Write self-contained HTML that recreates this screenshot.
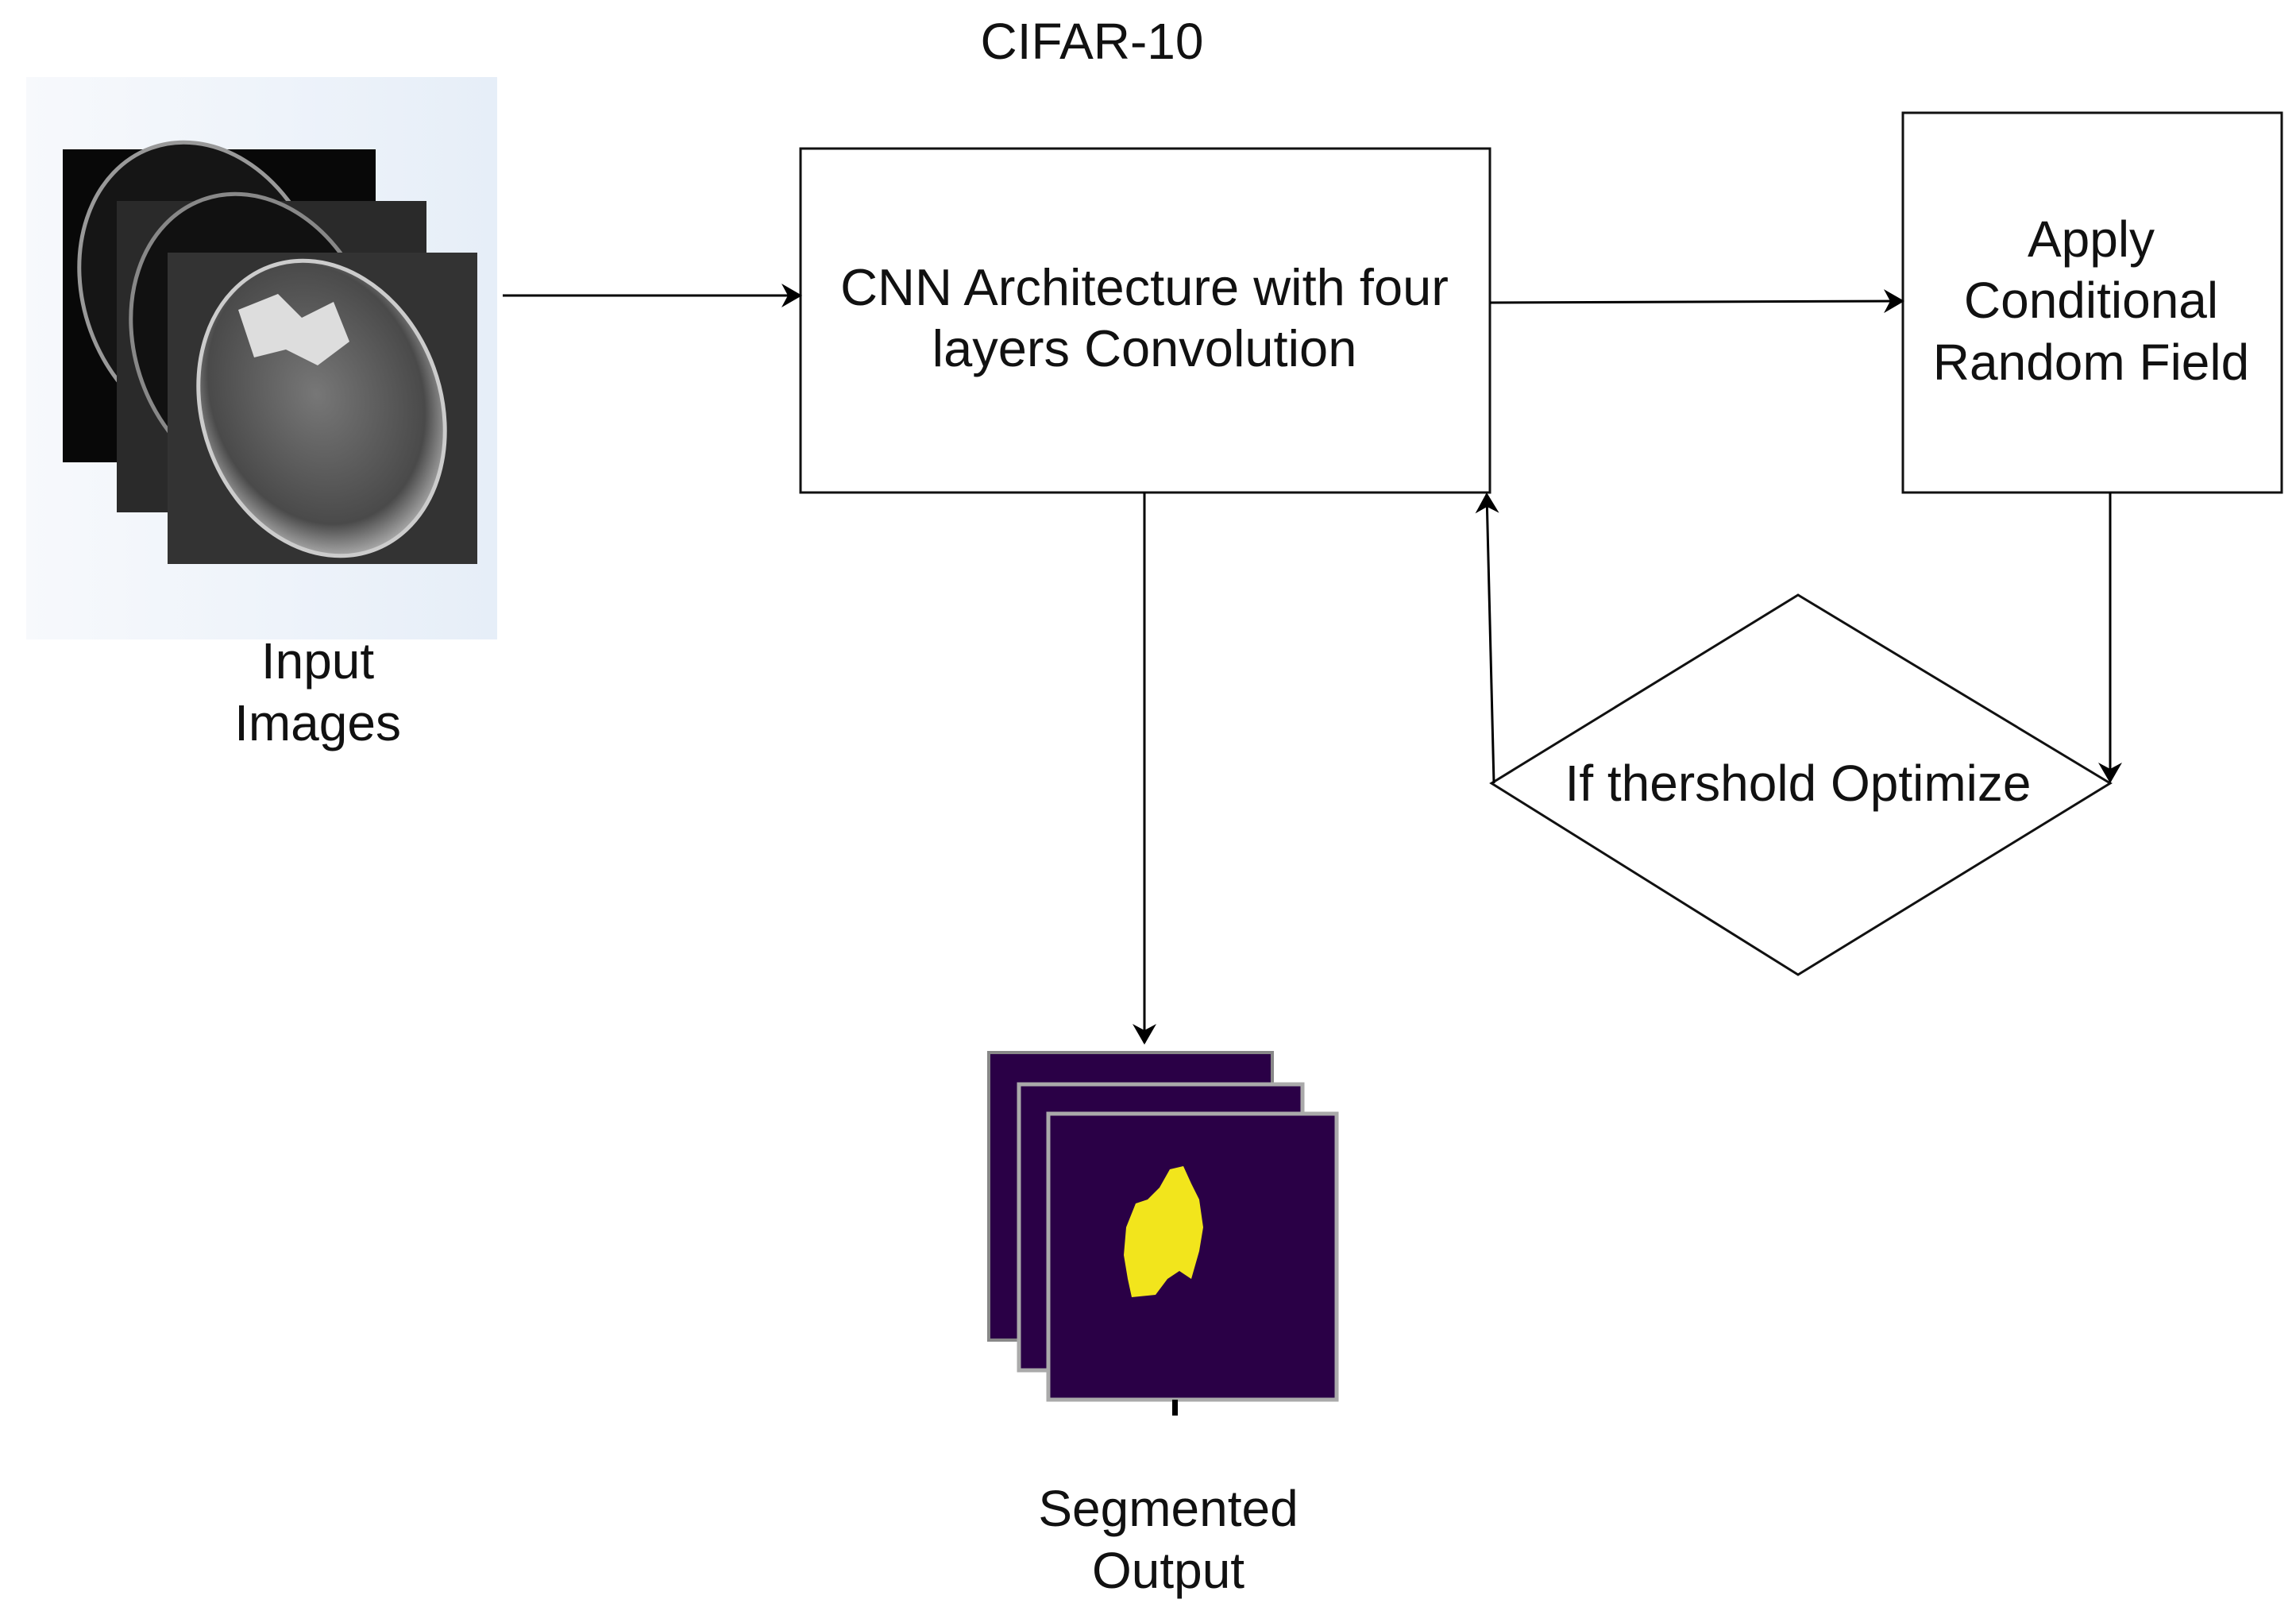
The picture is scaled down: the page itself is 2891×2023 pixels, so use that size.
<!DOCTYPE html>
<html><head><meta charset="utf-8"><style>
html,body{margin:0;padding:0;background:#fff;}
svg{display:block;}
text{font-family:"Liberation Sans",sans-serif;fill:#111;}
</style></head><body>
<svg width="2891" height="2023" viewBox="0 0 2891 2023" xmlns="http://www.w3.org/2000/svg">
<defs>
<linearGradient id="bg" x1="0" y1="0" x2="1" y2="0">
<stop offset="0" stop-color="#f7f9fc"/><stop offset="1" stop-color="#e6eef8"/>
</linearGradient>
<radialGradient id="brain" cx="0.5" cy="0.45" r="0.55">
<stop offset="0" stop-color="#777"/><stop offset="0.8" stop-color="#4a4a4a"/><stop offset="1" stop-color="#aaa"/>
</radialGradient>
<marker id="ahb" markerWidth="26" markerHeight="30" refX="24" refY="15" orient="auto" markerUnits="userSpaceOnUse">
<path d="M0,0 L26,15 L0,30 L8,15 z" fill="#000"/>
</marker>
</defs>

<text x="1375" y="74" font-size="64" text-anchor="middle">CIFAR-10</text>

<rect x="33" y="97" width="593" height="708" fill="url(#bg)"/>
<rect x="79" y="188" width="394" height="394" fill="#080808"/>
<ellipse cx="255" cy="365" rx="150" ry="190" transform="rotate(-20 255 365)" fill="#151515" stroke="#999" stroke-width="5"/>
<rect x="147" y="253" width="390" height="392" fill="#2a2a2a"/>
<ellipse cx="320" cy="430" rx="150" ry="190" transform="rotate(-20 320 430)" fill="#111" stroke="#888" stroke-width="5"/>
<rect x="211" y="318" width="390" height="392" fill="#333"/>
<ellipse cx="405" cy="514" rx="150" ry="190" transform="rotate(-20 405 514)" fill="url(#brain)" stroke="#ccc" stroke-width="5"/>
<path d="M300,390 L350,370 L380,400 L420,380 L440,430 L400,460 L360,440 L320,450 z" fill="#ddd"/>

<text x="400" y="854" font-size="64" text-anchor="middle">Input</text>
<text x="400" y="932" font-size="64" text-anchor="middle">Images</text>

<rect x="1008" y="187" width="868" height="433" fill="#fff" stroke="#111" stroke-width="3"/>
<text x="1441" y="384" font-size="65" text-anchor="middle">CNN Architecture with four</text>
<text x="1441" y="461" font-size="65" text-anchor="middle">layers Convolution</text>

<rect x="2396" y="142" width="477" height="478" fill="#fff" stroke="#111" stroke-width="3"/>
<text x="2633" y="323" font-size="64" text-anchor="middle">Apply</text>
<text x="2633" y="400" font-size="64" text-anchor="middle">Conditional</text>
<text x="2633" y="478" font-size="64" text-anchor="middle">Random Field</text>

<polygon points="1878,986 2264,749 2657,986 2264,1227" fill="#fff" stroke="#111" stroke-width="3"/>
<text x="2264" y="1008" font-size="64" text-anchor="middle">If thershold Optimize</text>

<line x1="633" y1="372" x2="1008" y2="372" stroke="#000" stroke-width="3" marker-end="url(#ahb)"/>
<line x1="1876" y1="381" x2="2396" y2="379" stroke="#000" stroke-width="3" marker-end="url(#ahb)"/>
<line x1="2657" y1="620" x2="2657" y2="984" stroke="#000" stroke-width="3" marker-end="url(#ahb)"/>
<line x1="1881" y1="986" x2="1872" y2="622" stroke="#000" stroke-width="3" marker-end="url(#ahb)"/>
<line x1="1441" y1="620" x2="1441" y2="1313" stroke="#000" stroke-width="3" marker-end="url(#ahb)"/>

<rect x="1245" y="1325" width="357" height="362" fill="#2a0046" stroke="#888" stroke-width="4"/>
<rect x="1283" y="1365" width="357" height="360" fill="#2a0046" stroke="#aaa" stroke-width="5"/>
<rect x="1320" y="1402" width="363" height="360" fill="#2a0046" stroke="#aaa" stroke-width="5"/>
<path d="M1473,1472 L1490,1468 L1500,1490 L1510,1510 L1515,1545 L1510,1575 L1500,1610 L1485,1600 L1470,1610 L1455,1630 L1425,1633 L1420,1610 L1415,1580 L1418,1545 L1430,1515 L1445,1510 L1460,1495 z" fill="#f2e51c"/>
<rect x="1476" y="1762" width="7" height="20" fill="#000"/>

<text x="1471" y="1921" font-size="64" text-anchor="middle">Segmented</text>
<text x="1471" y="1999" font-size="64" text-anchor="middle">Output</text>
</svg>
</body></html>
